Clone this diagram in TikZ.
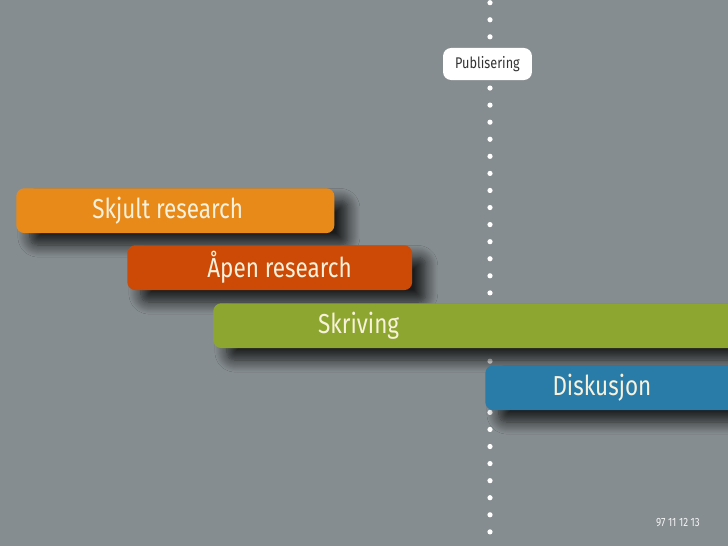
\documentclass[tikz,border=0pt]{standalone}
\usepackage{fontspec}
\setmainfont{Fira Sans}[FakeStretch=0.82]
\usepackage{xcolor}
\usepackage{tikz}
\usetikzlibrary{calc, positioning, shadows.blur}

\definecolor{bakgrunn}{HTML}{868D90}
\definecolor{oransje}{HTML}{E88A1A}
\definecolor{rodoransje}{HTML}{CD4A06}
\definecolor{gronn}{HTML}{8DA62F}
\definecolor{blaa}{HTML}{2A7CA8}
\definecolor{krem}{HTML}{F8F1DC}

\begin{document}
\begin{tikzpicture}[x=0.025cm, y=-0.025cm,
    bar/.style={rectangle, rounded corners=0.2cm, minimum height=1.12cm,
        anchor=north west, inner sep=0pt,
        blur shadow={shadow xshift=0.34cm, shadow yshift=-0.3cm,
            shadow blur radius=0.3cm, shadow opacity=80,
            shadow blur steps=12}},
    bartekst/.style={text=krem, font=\fontsize{19.5}{22}\selectfont,
        inner sep=0pt, anchor=west},
    prikk/.style={fill=white}]

    % =================================================================
    % 1. BAKGRUNN OG RAMME
    % =================================================================
    \fill[bakgrunn] (0,0) rectangle (728,546);
    \useasboundingbox (0,0) rectangle (728,546);
    \clip (0,0) rectangle (728,546);

    % =================================================================
    % 2. PRIKKET TIDSLINJE
    % =================================================================
    \foreach \k in {0,...,31}
        \fill[prikk] (490,{2.7+17.07*\k}) circle (2.6);

    % Publiseringsboks
    \node[rectangle, rounded corners=0.2cm, fill=white, text=black!80,
        minimum width=2.22cm, minimum height=0.8cm, inner sep=0pt,
        font=\fontsize{11}{12}\selectfont] (publ) at (487.5,64) {Publisering};

    % =================================================================
    % 3. FASENE SOM STOLPER
    % =================================================================
    \node[bar, fill=oransje, minimum width=7.95cm] (skjult) at (16,188) {};
    \node[bar, fill=rodoransje, minimum width=7.12cm] (aapen) at (127,245) {};
    \node[bar, fill=gronn, minimum width=14cm] (skriv) at (213,303) {};
    \node[bar, fill=blaa, minimum width=8cm] (disk) at (485,365) {};

    % Tekst i stolpene
    \node[bartekst, right=1.9cm of skjult.west] (skjulttekst) {Skjult research};
    \node[bartekst, right=2.0cm of aapen.west] (aapentekst) {Åpen research};
    \node[bartekst, right=2.62cm of skriv.west] (skrivtekst) {Skriving};
    \node[bartekst, right=1.68cm of disk.west] (disktekst) {Diskusjon};

    % =================================================================
    % 4. TALL NEDERST
    % =================================================================
    \node[text=white!90!bakgrunn, font=\fontsize{8.5}{10}\selectfont,
        inner sep=0pt] (tall) at (678,523) {97 11 12 13};

\end{tikzpicture}
\end{document}
